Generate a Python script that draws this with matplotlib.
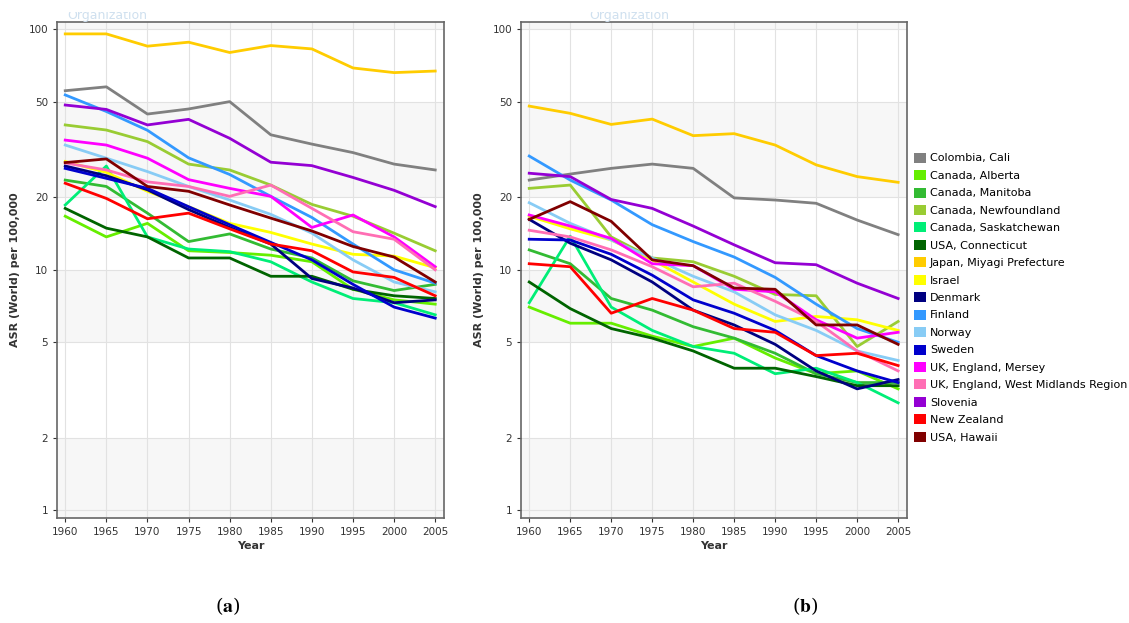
import matplotlib
matplotlib.use("Agg")
import matplotlib.pyplot as plt
from matplotlib.patches import Patch, Rectangle
from matplotlib.ticker import FixedLocator, NullLocator

plt.rcParams['mathtext.fontset'] = 'stix'

years = [1960, 1965, 1970, 1975, 1980, 1985, 1990, 1995, 2000, 2005]

registries = ["Colombia, Cali", "Canada, Alberta", "Canada, Manitoba", "Canada, Newfoundland",
              "Canada, Saskatchewan", "USA, Connecticut", "Japan, Miyagi Prefecture", "Israel",
              "Denmark", "Finland", "Norway", "Sweden", "UK, England, Mersey",
              "UK, England, West Midlands Region", "Slovenia", "New Zealand", "USA, Hawaii"]
colors = ["#808080", "#66ee00", "#33bb33", "#99cc33", "#00ee77", "#006400", "#ffcc00", "#ffff00",
          "#000080", "#3399ff", "#88ccf5", "#0000cc", "#ff00ff", "#ff6eb4", "#9400d3", "#ff0000",
          "#800000"]

# (a) rates, same order as registries
cali_a = [55.5, 57.6, 44.4, 46.6, 50.0, 36.4, 33.3, 30.7, 27.5, 26.0]
alberta_a = [16.7, 13.7, 15.6, 12.0, 11.8, 11.5, 10.8, 8.3, 7.5, 7.2]
manitoba_a = [23.6, 22.2, 17.2, 13.1, 14.1, 12.2, 11.2, 9.0, 8.2, 8.7]
newfoundland_a = [40.0, 38.1, 34.1, 27.5, 26.0, 22.5, 18.7, 16.7, 14.2, 12.0]
saskatchewan_a = [18.6, 27.0, 13.7, 12.2, 11.9, 10.8, 8.9, 7.6, 7.3, 6.5]
connecticut_a = [18.0, 14.9, 13.7, 11.2, 11.2, 9.4, 9.4, 8.3, 7.8, 7.6]
miyagi_a = [95.6, 95.6, 85.0, 88.3, 80.0, 85.5, 82.8, 69.0, 66.0, 67.0]
israel_a = [28.2, 25.4, 21.2, 18.3, 15.6, 14.3, 12.8, 11.6, 11.4, 10.2]
denmark_a = [27.0, 24.6, 21.5, 17.8, 15.0, 12.8, 9.2, 8.4, 7.3, 7.5]
finland_a = [53.3, 45.5, 38.0, 29.2, 24.9, 20.2, 16.5, 12.8, 10.0, 8.8]
norway_a = [33.0, 29.1, 25.6, 22.2, 19.5, 17.0, 14.2, 11.0, 8.9, 8.1]
sweden_a = [26.4, 24.0, 21.8, 18.3, 15.4, 13.0, 11.0, 8.7, 7.0, 6.3]
mersey_a = [34.6, 33.0, 29.1, 23.7, 21.8, 20.2, 15.0, 16.9, 13.7, 10.3]
westmid_a = [27.8, 26.0, 23.2, 22.2, 20.2, 22.5, 18.0, 14.4, 13.4, 10.0]
slovenia_a = [48.4, 46.4, 40.0, 42.2, 35.2, 28.0, 27.1, 24.2, 21.4, 18.3]
nz_a = [22.9, 19.8, 16.3, 17.2, 14.8, 12.8, 12.0, 9.8, 9.3, 7.8]
hawaii_a = [27.9, 28.9, 22.2, 21.2, 18.6, 16.4, 14.5, 12.5, 11.3, 8.9]

# (b) rates
cali_b = [23.6, 25.0, 26.4, 27.5, 26.4, 19.9, 19.5, 18.9, 16.1, 14.0]
alberta_b = [7.0, 6.0, 6.0, 5.3, 4.8, 5.2, 4.3, 3.7, 3.8, 3.2]
manitoba_b = [12.1, 10.6, 7.6, 6.8, 5.8, 5.2, 4.5, 3.7, 3.4, 3.4]
newfoundland_b = [21.8, 22.5, 13.7, 11.2, 10.8, 9.4, 7.9, 7.8, 4.8, 6.1]
saskatchewan_b = [7.3, 13.8, 7.0, 5.6, 4.8, 4.5, 3.7, 3.9, 3.4, 2.8]
connecticut_b = [8.9, 6.9, 5.7, 5.2, 4.6, 3.9, 3.9, 3.6, 3.3, 3.3]
miyagi_b = [47.9, 44.7, 40.2, 42.3, 36.1, 36.8, 33.0, 27.3, 24.4, 23.1]
israel_b = [16.7, 14.8, 13.3, 11.0, 8.9, 7.2, 6.1, 6.4, 6.2, 5.6]
denmark_b = [16.2, 12.9, 11.0, 8.9, 6.8, 5.9, 4.9, 3.8, 3.2, 3.5]
finland_b = [29.7, 23.6, 19.5, 15.4, 13.1, 11.3, 9.3, 7.2, 5.7, 5.0]
norway_b = [19.0, 15.6, 13.3, 11.2, 9.4, 8.1, 6.5, 5.6, 4.6, 4.2]
sweden_b = [13.4, 13.3, 11.6, 9.5, 7.5, 6.6, 5.6, 4.4, 3.8, 3.4]
mersey_b = [16.9, 15.2, 13.5, 10.6, 10.4, 8.3, 8.1, 6.2, 5.2, 5.5]
westmid_b = [14.6, 13.7, 12.1, 10.3, 8.5, 8.8, 7.4, 6.1, 4.6, 3.8]
slovenia_b = [25.2, 24.4, 19.6, 18.0, 15.2, 12.7, 10.7, 10.5, 8.8, 7.6]
nz_b = [10.6, 10.3, 6.6, 7.6, 6.8, 5.7, 5.5, 4.4, 4.5, 4.0]
hawaii_b = [16.2, 19.2, 15.9, 11.0, 10.4, 8.4, 8.3, 5.9, 5.9, 4.9]

panel_a = [cali_a, alberta_a, manitoba_a, newfoundland_a, saskatchewan_a, connecticut_a, miyagi_a,
           israel_a, denmark_a, finland_a, norway_a, sweden_a, mersey_a, westmid_a, slovenia_a,
           nz_a, hawaii_a]
panel_b = [cali_b, alberta_b, manitoba_b, newfoundland_b, saskatchewan_b, connecticut_b, miyagi_b,
           israel_b, denmark_b, finland_b, norway_b, sweden_b, mersey_b, westmid_b, slovenia_b,
           nz_b, hawaii_b]

yticks = [1, 2, 5, 10, 20, 50, 100]

fig = plt.figure(figsize=(11.29, 6.23), dpi=100)
ax_a = fig.add_axes([0.0505, 0.1685, 0.343, 0.796])
ax_b = fig.add_axes([0.4615, 0.1685, 0.342, 0.796])


def draw_panel(ax, data):
    ax.set_yscale('log')
    ax.set_ylim(0.93, 107)
    ax.set_xlim(1959.0, 2006.1)
    # alternating shaded bands like the CI5 plots
    for lo, hi in [(0.5, 2), (5, 10), (20, 50), (100, 200)]:
        ax.axhspan(lo, hi, color='#f7f7f7', zorder=0, lw=0)
    ax.yaxis.set_major_locator(FixedLocator(yticks))
    ax.yaxis.set_minor_locator(NullLocator())
    ax.set_yticks(yticks)
    ax.set_yticklabels([str(t) for t in yticks])
    ax.set_xticks(years)
    ax.set_xticklabels([str(y) for y in years])
    ax.grid(True, color='#e2e2e2', lw=0.8, zorder=1)
    ax.set_axisbelow(True)
    for vals, c in zip(data, colors):
        ax.plot(years, vals, color=c, lw=2.0, zorder=3, solid_joinstyle='round')
    ax.tick_params(labelsize=7.5, colors='#333333', length=3, width=0.8)
    for s in ax.spines.values():
        s.set_color('#666666')
        s.set_linewidth(1.2)
    ax.set_xlabel('Year', fontsize=8, fontweight='bold', color='#333333', labelpad=3)
    ax.set_ylabel('ASR (World) per 100,000', fontsize=8, fontweight='bold', color='#333333',
                  labelpad=6)


draw_panel(ax_a, panel_a)
draw_panel(ax_b, panel_b)

handles = [Patch(facecolor=c, edgecolor='none') for c in colors]
fig.legend(handles, registries, loc='upper left', bbox_to_anchor=(0.806, 0.762),
           frameon=False, fontsize=8, handlelength=1.0, handleheight=1.0,
           handletextpad=0.4, labelspacing=0.6, borderaxespad=0)

# cut-off watermark at the top of each panel
fig.text(0.06, 0.975, 'Organization', color='#cfe0ef', fontsize=9, va='center')
fig.text(0.522, 0.975, 'Organization', color='#cfe0ef', fontsize=9, va='center')
fig.patches.append(Rectangle((0, 0.981), 1, 0.02, transform=fig.transFigure,
                             facecolor='white', edgecolor='none', zorder=10))

fig.text(0.202, 0.017, r'($\mathbf{a}$)', fontsize=14, ha='center', family='serif')
fig.text(0.713, 0.017, r'($\mathbf{b}$)', fontsize=14, ha='center', family='serif')

plt.savefig("out.png", dpi=100)
